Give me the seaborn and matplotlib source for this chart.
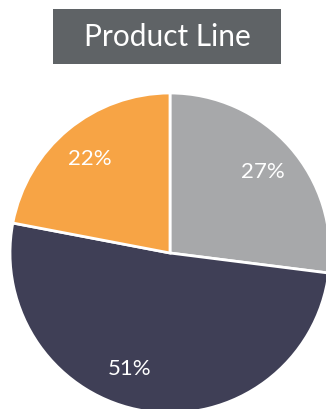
import matplotlib
matplotlib.use("Agg")
import matplotlib.pyplot as plt
import matplotlib.patches as mpatches
import seaborn as sns
import numpy as np

categories = ["Product A", "Product B", "Product C"]
shares = [27, 51, 22]
labels_pct = ["27%", "51%", "22%"]
colors = ["#a7a8aa", "#3f3f56", "#f7a445"]
title = "Product Line"

sns.set_style("white")
plt.rcParams["font.family"] = ["Lato", "DejaVu Sans"]

W, H = 326, 409
fig = plt.figure(figsize=(W / 100, H / 100), dpi=100)

cx, cy, r = 170, 253, 160
ax = fig.add_axes([(cx - r) / W, (H - cy - r) / H, 2 * r / W, 2 * r / H])
wedges, _ = ax.pie(shares, colors=colors, startangle=90, counterclock=False,
                   wedgeprops=dict(edgecolor="white", linewidth=2), radius=1)
nudges = [0, -10, 1]  # degrees, label placement tweak
for w, lab, nd in zip(wedges, labels_pct, nudges):
    ang = np.deg2rad((w.theta1 + w.theta2) / 2 + nd)
    ax.text(0.77 * np.cos(ang), 0.77 * np.sin(ang), lab, ha="center", va="center",
            color="white", fontsize=16, fontweight="normal", zorder=5)
ax.set_xlim(-1, 1)
ax.set_ylim(-1, 1)
ax.set_aspect("equal")
ax.axis("off")

bx0, bx1, by0, by1 = 53, 281, 9, 64
fig.patches.append(mpatches.Rectangle((bx0 / W, 1 - by1 / H), (bx1 - bx0) / W, (by1 - by0) / H,
                                      transform=fig.transFigure, facecolor="#5f6366",
                                      edgecolor="none", zorder=0))
fig.text((bx0 + bx1) / 2 / W, 1 - (by0 + by1) / 2 / H, title, ha="center", va="center",
         color="white", fontsize=21.5)

fig.savefig("out.png", dpi=100)
